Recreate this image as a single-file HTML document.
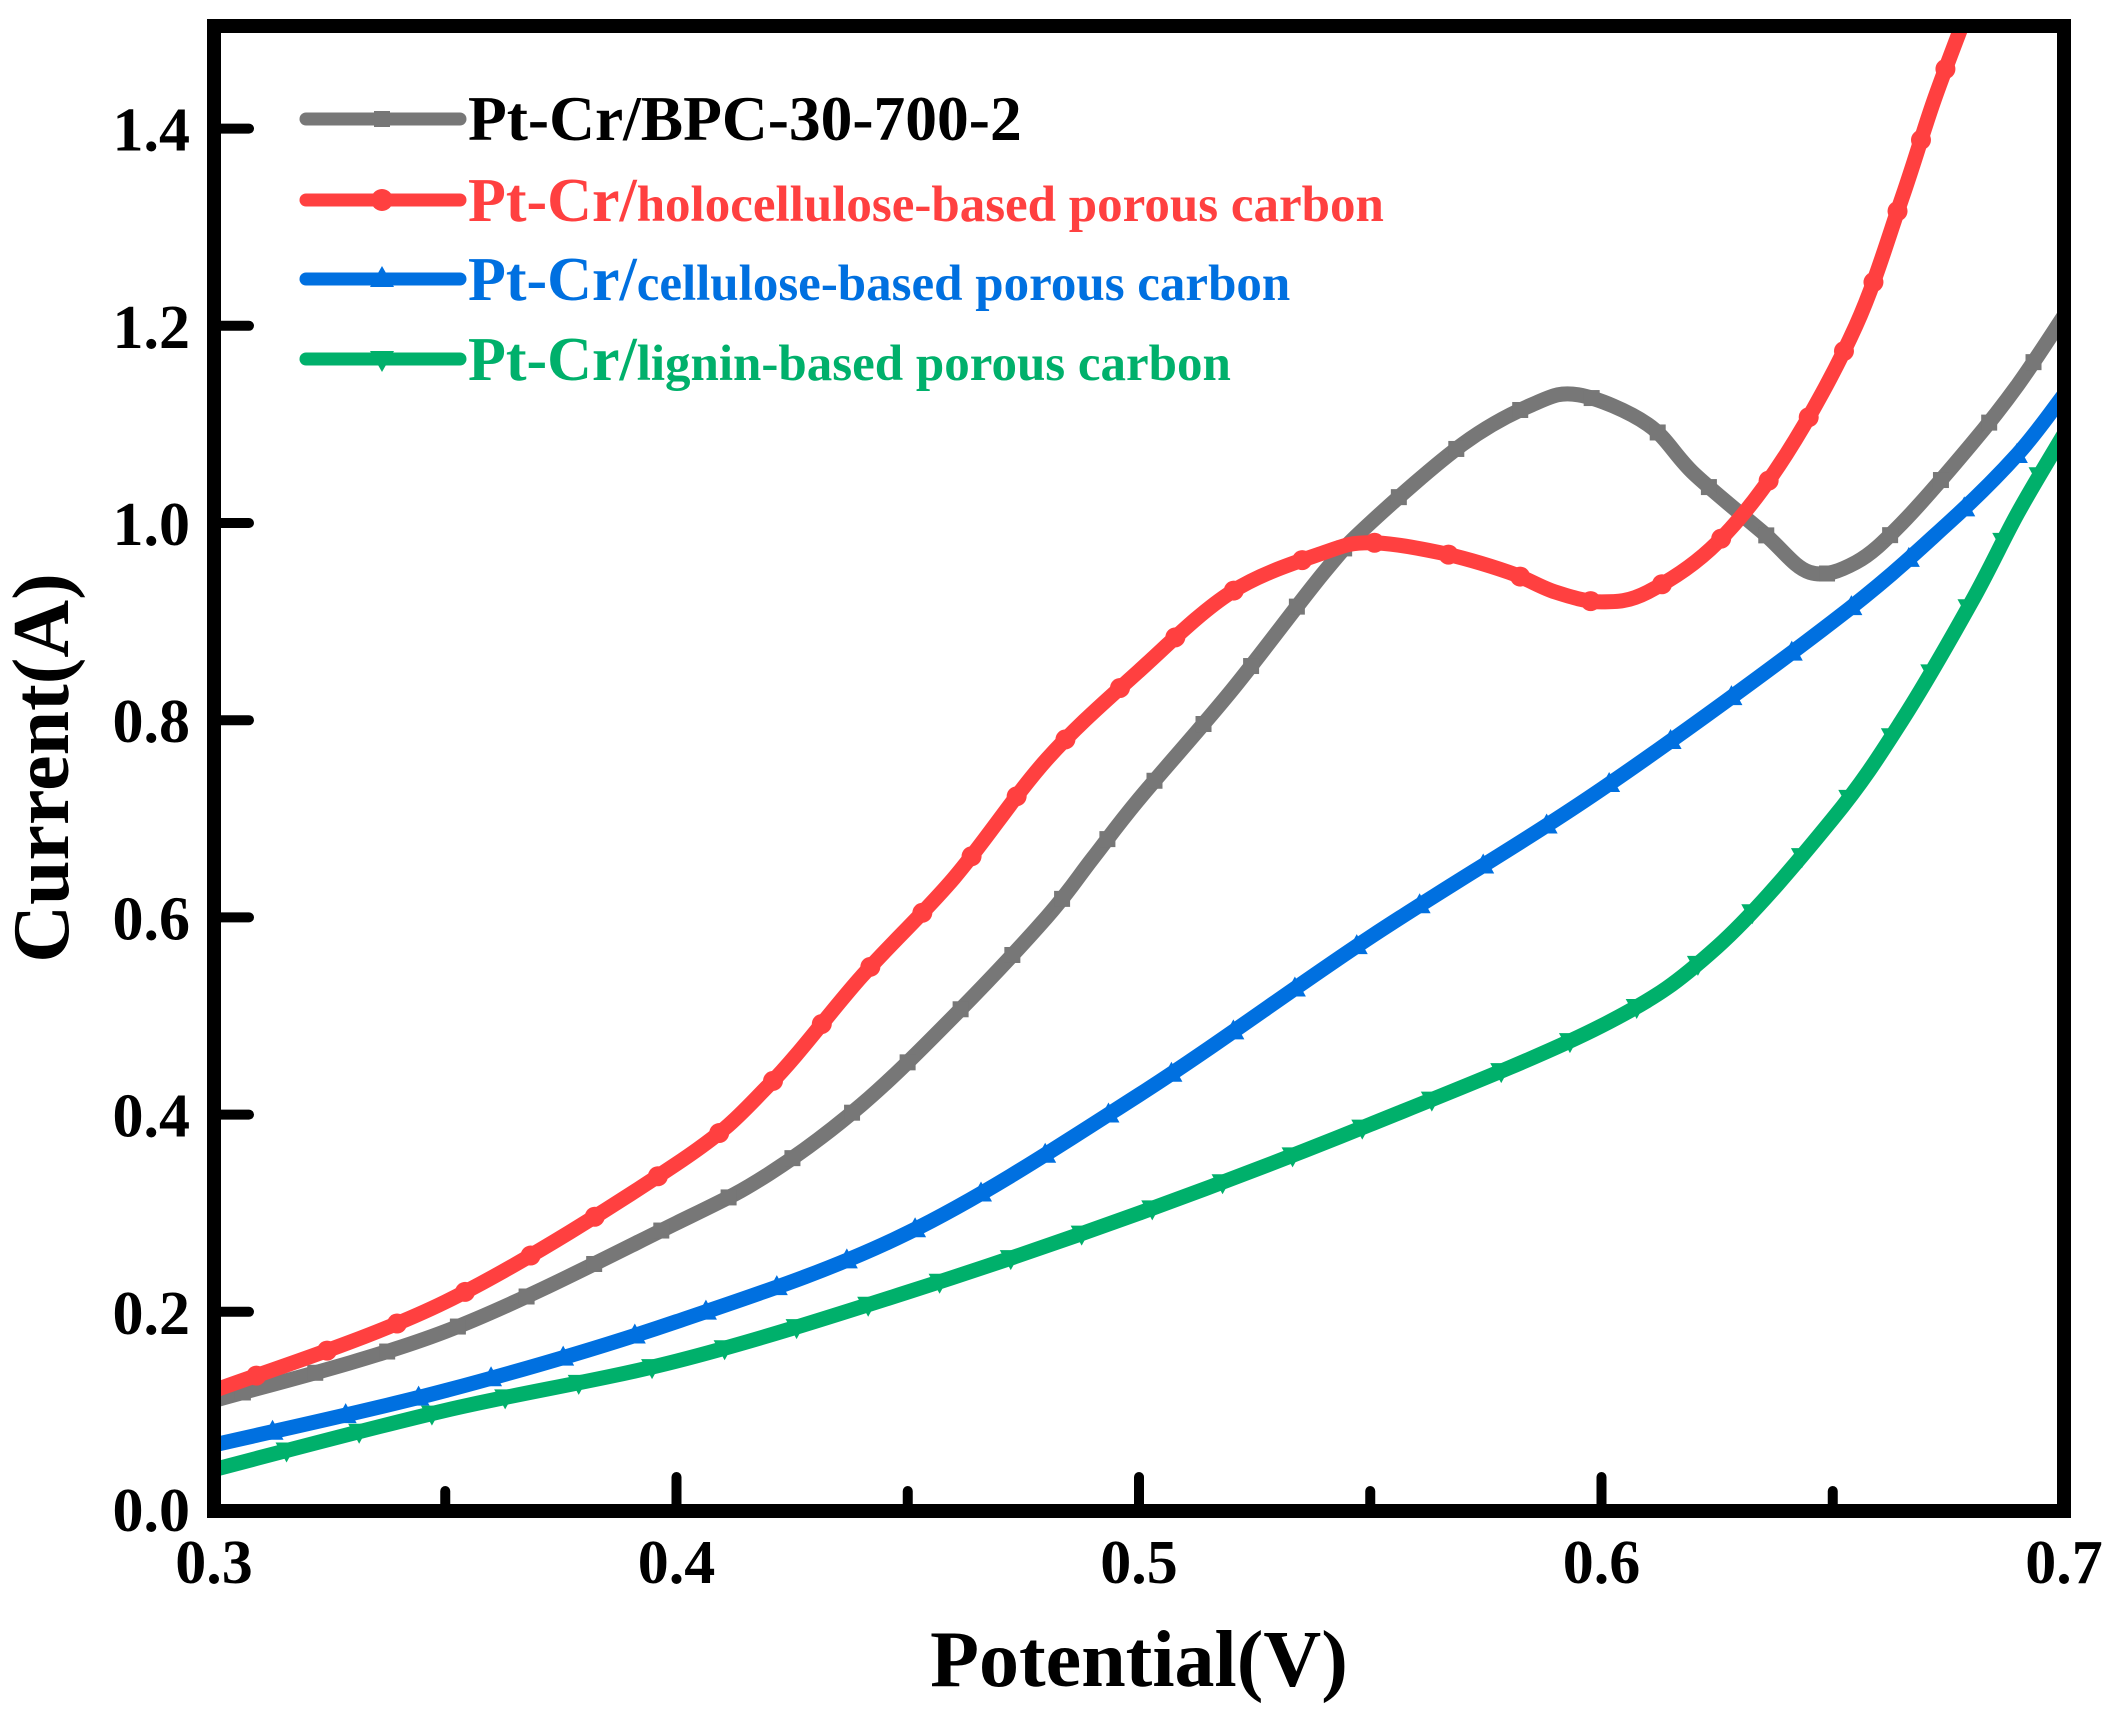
<!DOCTYPE html>
<html><head><meta charset="utf-8"><style>
body{margin:0;background:#fff;}
svg{display:block;}
text{font-family:"Liberation Serif",serif;font-weight:bold;}
</style></head><body>
<svg id="s" width="2112" height="1709" viewBox="0 0 2112 1709" xmlns="http://www.w3.org/2000/svg">
<defs><clipPath id="c"><rect x="214" y="26" width="1850" height="1485"/></clipPath></defs>
<g id="curves" clip-path="url(#c)" fill="none" stroke-linejoin="round" stroke-linecap="round" stroke-width="15"></g>
<rect x="214" y="26" width="1850" height="1485" fill="none" stroke="#000" stroke-width="14"/>
<g id="ticks" stroke="#000" stroke-width="10" stroke-linecap="round"></g>
<g id="labels" font-size="62" fill="#000"></g>
<text x="1139" y="1686" font-size="80" text-anchor="middle">Potential(V)</text>
<text transform="translate(68,768) rotate(-90)" font-size="80" text-anchor="middle">Current(A)</text>
<g stroke-width="13" stroke-linecap="round">
<line x1="306" y1="119" x2="460" y2="119" stroke="#777"/>
<line x1="306" y1="200" x2="460" y2="200" stroke="#ff4040"/>
<line x1="306" y1="279" x2="460" y2="279" stroke="#0070e0"/>
<line x1="306" y1="359" x2="460" y2="359" stroke="#00b06b"/>
</g>
<rect x="374" y="111" width="16" height="16" fill="#777"/>
<circle cx="382" cy="200" r="11" fill="#ff4040"/>
<polygon points="370,287 382,266 394,287" fill="#0070e0"/>
<polygon points="370,351 382,372 394,351" fill="#00b06b"/>
<text x="468" y="140" font-size="63.5" fill="#000">Pt-Cr/BPC-30-700-2</text>
<text x="468" y="221" font-size="62" fill="#ff4040">Pt-Cr/<tspan font-size="51">holocellulose-based porous carbon</tspan></text>
<text x="468" y="300" font-size="62" fill="#0070e0">Pt-Cr/<tspan font-size="51">cellulose-based porous carbon</tspan></text>
<text x="468" y="380" font-size="62" fill="#00b06b">Pt-Cr/<tspan font-size="51">lignin-based porous carbon</tspan></text>
</svg>
<script>
var NS="http://www.w3.org/2000/svg";
function X(v){return 214+(v-0.3)*4625;}
function Y(i){return 1509-i*986;}
var data={
"#777":[[0.3,0.11],[0.35,0.18],[0.4,0.29],[0.42,0.34],[0.44,0.41],[0.46,0.50],[0.48,0.60],[0.49,0.66],[0.50,0.72],[0.52,0.83],[0.54,0.95],[0.55,1.00],[0.57,1.08],[0.585,1.12],[0.595,1.13],[0.61,1.10],[0.62,1.05],[0.635,0.99],[0.645,0.95],[0.655,0.96],[0.665,1.00],[0.68,1.08],[0.69,1.14],[0.7,1.21]],
"#ff4040":[[0.3,0.12],[0.35,0.21],[0.4,0.35],[0.42,0.43],[0.44,0.54],[0.46,0.64],[0.48,0.76],[0.50,0.85],[0.52,0.93],[0.54,0.97],[0.55,0.98],[0.565,0.97],[0.58,0.95],[0.59,0.93],[0.60,0.92],[0.61,0.93],[0.625,0.98],[0.64,1.07],[0.655,1.20],[0.665,1.33],[0.672,1.43],[0.68,1.53]],
"#0070e0":[[0.3,0.065],[0.35,0.12],[0.4,0.19],[0.45,0.28],[0.5,0.42],[0.55,0.58],[0.6,0.73],[0.65,0.90],[0.675,1.00],[0.69,1.07],[0.7,1.13]],
"#00b06b":[[0.3,0.04],[0.35,0.10],[0.4,0.15],[0.45,0.22],[0.5,0.30],[0.55,0.39],[0.6,0.49],[0.625,0.57],[0.65,0.70],[0.665,0.80],[0.68,0.92],[0.69,1.01],[0.7,1.09]]};
var g=document.getElementById("curves");
function smooth(P){var d="M"+P[0][0]+","+P[0][1];
 for(var i=0;i<P.length-1;i++){var p0=P[i-1]||P[i],p1=P[i],p2=P[i+1],p3=P[i+2]||p2;
  var c1=[p1[0]+(p2[0]-p0[0])/6,p1[1]+(p2[1]-p0[1])/6],c2=[p2[0]-(p3[0]-p1[0])/6,p2[1]-(p3[1]-p1[1])/6];
  d+=" C"+c1.join(",")+" "+c2.join(",")+" "+p2.join(",");}
 return d;}
var k=0;
for(var c in data){var P=data[c].map(function(d){return [X(d[0]),Y(d[1])]});
 var p=document.createElementNS(NS,"path");p.setAttribute("d",smooth(P));p.setAttribute("stroke",c);g.appendChild(p);
 var L=p.getTotalLength();
 for(var s=30+k*15;s<L;s+=75){var q=p.getPointAtLength(s),m;
  if(k==0){m=document.createElementNS(NS,"rect");m.setAttribute("x",q.x-8);m.setAttribute("y",q.y-8);m.setAttribute("width",16);m.setAttribute("height",16);}
  else if(k==1){m=document.createElementNS(NS,"circle");m.setAttribute("cx",q.x);m.setAttribute("cy",q.y);m.setAttribute("r",10);}
  else if(k==2){m=document.createElementNS(NS,"polygon");m.setAttribute("points",(q.x-11)+","+(q.y+8)+" "+q.x+","+(q.y-12)+" "+(q.x+11)+","+(q.y+8));}
  else {m=document.createElementNS(NS,"polygon");m.setAttribute("points",(q.x-11)+","+(q.y-8)+" "+q.x+","+(q.y+12)+" "+(q.x+11)+","+(q.y-8));}
  m.setAttribute("fill",c);m.setAttribute("stroke","none");g.appendChild(m);}
 k++;}
var t=document.getElementById("ticks"),Lb=document.getElementById("labels");
function ln(a,b,c,d){var l=document.createElementNS(NS,"line");l.setAttribute("x1",a);l.setAttribute("y1",b);l.setAttribute("x2",c);l.setAttribute("y2",d);t.appendChild(l);}
function tx(x,y,s,a){var e=document.createElementNS(NS,"text");e.setAttribute("x",x);e.setAttribute("y",y);e.setAttribute("text-anchor",a);e.textContent=s;Lb.appendChild(e);}
for(var i=0;i<=8;i++){var v=0.3+i*0.05,x=X(v),maj=i%2==0;
 if(i>0&&i<8)ln(x,1505,x,1505-(maj?28:14));
 if(maj)tx(x,1583,v.toFixed(1),"middle");}
for(var j=0;j<=7;j++){var y=Y(j*0.2);
 if(j>0)ln(220,y,220+29,y);
 tx(190,y+22,(j*0.2).toFixed(1),"end");}
</script>
</body></html>
